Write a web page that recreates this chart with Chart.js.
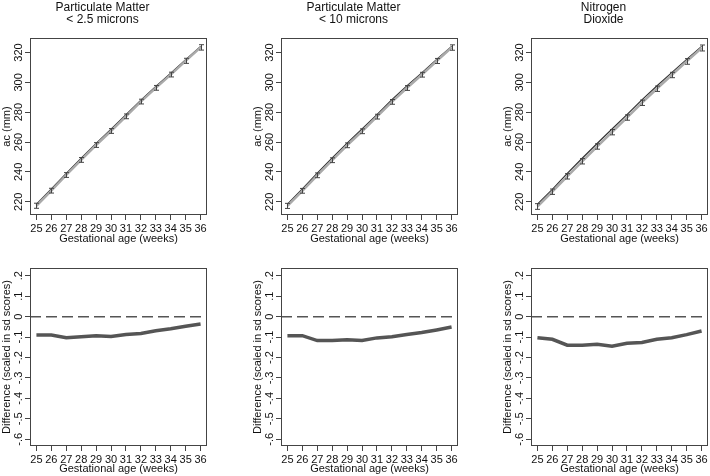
<!DOCTYPE html>
<html>
<head>
<meta charset="utf-8">
<script src="https://cdn.jsdelivr.net/npm/chart.js@4.4.0/dist/chart.umd.min.js"></script>
<style>
  html, body { margin: 0; padding: 0; background: #fff; }
  #wrap { position: relative; width: 710px; height: 476px; overflow: hidden; }
  canvas { position: absolute; }
</style>
</head>
<body>
<div id="wrap">
  <canvas id="top1" width="209" height="246" style="left:0;top:0"></canvas>
  <canvas id="top2" width="209" height="246" style="left:251px;top:0"></canvas>
  <canvas id="top3" width="209" height="246" style="left:501px;top:0"></canvas>
  <canvas id="bot1" width="209" height="230" style="left:0;top:246px"></canvas>
  <canvas id="bot2" width="209" height="230" style="left:251px;top:246px"></canvas>
  <canvas id="bot3" width="209" height="230" style="left:501px;top:246px"></canvas>
</div>
<script>
// gestational age in weeks
const weeks = [25, 26, 27, 28, 29, 30, 31, 32, 33, 34, 35, 36];

// predicted abdominal circumference (mm): reference line, exposed line, error half-width
const pm25Ref = [218.4, 228.5, 239.0, 249.1, 259.1, 268.6, 278.3, 288.1, 297.3, 306.1, 315.1, 324.0];
const pm25Exp = [217.3, 227.4, 237.9, 248.0, 258.0, 267.4, 277.2, 287.1, 296.3, 305.2, 314.4, 323.4];
const pm25Err = [1.7, 1.6, 1.6, 1.6, 1.6, 1.6, 1.6, 1.6, 1.6, 1.6, 1.7, 1.8];

const pm10Ref = [218.4, 228.5, 239.2, 249.3, 259.3, 268.7, 278.4, 288.3, 297.5, 306.3, 315.3, 324.1];
const pm10Exp = [217.2, 227.3, 237.7, 247.8, 257.8, 267.2, 277.0, 286.9, 296.2, 305.1, 314.3, 323.3];
const pm10Err = [1.7, 1.6, 1.6, 1.6, 1.6, 1.6, 1.6, 1.6, 1.6, 1.6, 1.7, 1.8];

const no2Ref = [218.3, 228.3, 239.0, 249.1, 259.0, 268.7, 278.4, 288.2, 297.5, 306.5, 315.4, 324.1];
const no2Exp = [216.8, 226.7, 237.0, 247.1, 257.0, 266.6, 276.4, 286.3, 295.7, 304.9, 314.0, 323.0];
const no2Err = [1.9, 1.8, 1.8, 1.8, 1.8, 1.8, 1.8, 1.8, 1.8, 1.8, 1.9, 2.0];

// difference scaled in sd scores
const pm25Diff = [-0.090, -0.090, -0.103, -0.098, -0.093, -0.097, -0.087, -0.082, -0.069, -0.059, -0.047, -0.036];
const pm10Diff = [-0.093, -0.093, -0.117, -0.117, -0.113, -0.117, -0.104, -0.098, -0.087, -0.078, -0.065, -0.051];
const no2Diff  = [-0.103, -0.111, -0.140, -0.140, -0.135, -0.145, -0.130, -0.126, -0.111, -0.103, -0.088, -0.070];

// tick values
const acTicks = [220, 240, 260, 280, 300, 320];
const sdTicks = [0.2, 0.1, 0, -0.1, -0.2, -0.3, -0.4, -0.5, -0.6];
const zeroLine = 0;

const titles = [
  ['Particulate Matter', '< 2.5 microns'],
  ['Particulate Matter', '< 10 microns'],
  ['Nitrogen', 'Dioxide']
];

Chart.defaults.font.family = "'Liberation Sans', Arial, Helvetica, sans-serif";
Chart.defaults.color = '#111';

const axisColor = '#444';

// box round the plot region
const frame = {
  id: 'frame',
  afterDraw(chart) {
    const a = chart.chartArea, c = chart.ctx;
    c.save();
    c.strokeStyle = axisColor;
    c.lineWidth = 1;
    c.strokeRect(Math.round(a.left) + 0.5, Math.round(a.top) + 0.5,
                 Math.round(a.right - a.left) - 1, Math.round(a.bottom - a.top) - 1);
    c.restore();
  }
};

// vertical y tick labels
const yLabels = {
  id: 'yLabels',
  afterDraw(chart, args, opts) {
    const s = chart.scales.y, c = chart.ctx;
    c.save();
    c.fillStyle = '#111';
    c.font = "11px 'Liberation Sans', Arial, sans-serif";
    c.textAlign = 'center';
    c.textBaseline = 'alphabetic';
    s.ticks.forEach(t => {
      const y = s.getPixelForValue(t.value);
      c.save();
      c.translate(chart.chartArea.left - 8, y);
      c.rotate(-Math.PI / 2);
      c.fillText(opts.format(t.value), 0, 0);
      c.restore();
    });
    c.restore();
  }
};

// two-line panel title
const panelTitle = {
  id: 'panelTitle',
  afterDraw(chart, args, opts) {
    if (!opts.lines) return;
    const c = chart.ctx;
    c.save();
    c.fillStyle = '#111';
    c.font = "12px 'Liberation Sans', Arial, sans-serif";
    c.textAlign = 'center';
    c.textBaseline = 'alphabetic';
    const x = chart.chartArea.left + 72.5;
    c.fillText(opts.lines[0], x, 11);
    c.fillText(opts.lines[1], x, 23);
    c.restore();
  }
};

// capped error bars for datasets carrying an errors array
const errorBars = {
  id: 'errorBars',
  afterDatasetsDraw(chart) {
    const c = chart.ctx, ys = chart.scales.y;
    chart.data.datasets.forEach((ds, i) => {
      if (!ds.errors) return;
      const meta = chart.getDatasetMeta(i);
      c.save();
      c.strokeStyle = '#444';
      c.lineWidth = 1;
      meta.data.forEach((pt, j) => {
        const v = ds.data[j].y, e = ds.errors[j];
        const y1 = ys.getPixelForValue(v - e), y2 = ys.getPixelForValue(v + e);
        const x = Math.round(pt.x) + 0.5;
        c.beginPath();
        c.moveTo(x, y1); c.lineTo(x, y2);
        c.moveTo(x - 2.5, y1); c.lineTo(x + 2.5, y1);
        c.moveTo(x - 2.5, y2); c.lineTo(x + 2.5, y2);
        c.stroke();
      });
      c.restore();
    });
  }
};

// dashed reference line at zero difference
const refLine = {
  id: 'refLine',
  beforeDatasetsDraw(chart, args, opts) {
    if (opts.value === undefined) return;
    const a = chart.chartArea, c = chart.ctx;
    const y = chart.scales.y.getPixelForValue(opts.value);
    c.save();
    c.strokeStyle = '#555';
    c.lineWidth = 1.5;
    c.setLineDash([11, 5]);
    c.beginPath();
    c.moveTo(a.left, y); c.lineTo(a.right, y);
    c.stroke();
    c.restore();
  }
};

function pts(values) {
  return weeks.map((w, i) => ({ x: w, y: values[i] }));
}

function makePanel(id, datasets, yCfg, isTop, col) {
  return new Chart(document.getElementById(id), {
    type: 'line',
    data: { datasets },
    options: {
      responsive: false,
      animation: false,
      events: [],
      layout: { autoPadding: false, padding: { top: isTop ? 38 : 22, right: 2, left: 0, bottom: 0 } },
      elements: { point: { radius: 0 }, line: { tension: 0 } },
      scales: {
        x: {
          type: 'linear',
          min: 24.57, max: 36.43,
          afterBuildTicks: s => { s.ticks = weeks.map(v => ({ value: v })); },
          afterFit: s => { s.height = isTop ? 31 : 30; },
          border: { display: false },
          grid: { drawOnChartArea: false, drawTicks: true, tickLength: 5, tickColor: axisColor },
          ticks: { autoSkip: false, maxRotation: 0, minRotation: 0, padding: 2, color: '#111',
                   font: { size: 11 } },
          title: { display: true, text: 'Gestational age (weeks)', color: '#111',
                   font: { size: 11, lineHeight: 1.2 }, padding: 0 }
        },
        y: {
          type: 'linear',
          min: yCfg.min, max: yCfg.max,
          afterBuildTicks: s => { s.ticks = yCfg.ticks.map(v => ({ value: v })); },
          afterFit: s => { s.width = 30; },
          border: { display: false },
          grid: { drawOnChartArea: false, drawTicks: true, tickLength: 5, tickColor: axisColor },
          ticks: { display: false },
          title: { display: true, text: yCfg.title, color: '#111',
                   font: { size: 11, lineHeight: 1.2 }, padding: { top: 0.5, bottom: 0 } }
        }
      },
      plugins: {
        legend: { display: false },
        tooltip: { enabled: false },
        yLabels: { format: yCfg.format },
        panelTitle: { lines: isTop ? titles[col] : null },
        refLine: { value: isTop ? undefined : zeroLine }
      }
    },
    plugins: [frame, yLabels, panelTitle, errorBars, refLine]
  });
}

const acAxis = { min: 211.1, max: 329.7, ticks: acTicks, title: 'ac (mm)', format: v => String(v) };
const sdAxis = {
  min: -0.633, max: 0.238, ticks: sdTicks, title: 'Difference (scaled in sd scores)',
  format: v => {
    const r = Math.round(v * 10);
    if (r === 0) return '0';
    return (r < 0 ? '-' : '') + '.' + Math.abs(r);
  }
};

function topSets(ref, exp, err) {
  return [
    { data: pts(exp), borderColor: '#aaaaaa', borderWidth: 2.5, errors: err },
    { data: pts(ref), borderColor: '#333333', borderWidth: 1.2 }
  ];
}

function botSets(diff) {
  return [{ data: pts(diff), borderColor: '#555555', borderWidth: 3.5 }];
}

makePanel('top1', topSets(pm25Ref, pm25Exp, pm25Err), acAxis, true, 0);
makePanel('top2', topSets(pm10Ref, pm10Exp, pm10Err), acAxis, true, 1);
makePanel('top3', topSets(no2Ref, no2Exp, no2Err), acAxis, true, 2);
makePanel('bot1', botSets(pm25Diff), sdAxis, false, 0);
makePanel('bot2', botSets(pm10Diff), sdAxis, false, 1);
makePanel('bot3', botSets(no2Diff), sdAxis, false, 2);
</script>
</body>
</html>
